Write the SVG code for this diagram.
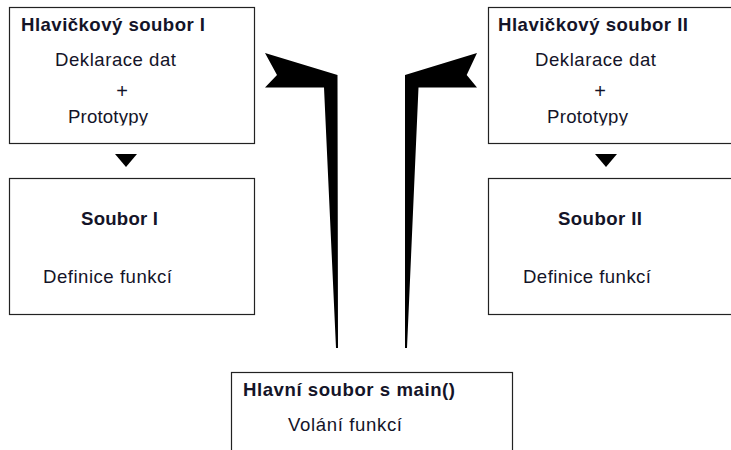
<svg xmlns="http://www.w3.org/2000/svg" width="731" height="450" viewBox="0 0 731 450">
<defs>
<style>
.box{fill:#fff;stroke:#222;stroke-width:1.2}
.t{font-family:"Liberation Sans",Arial,sans-serif;font-size:18.6px;fill:#141428}
.b{font-weight:bold}
.p{font-size:20px}
.arrow{fill:#000}
</style>
<clipPath id="clipL"><rect x="0" y="0" width="260" height="125.5"/></clipPath>
<clipPath id="clipR"><rect x="480" y="0" width="251" height="125.5"/></clipPath>
</defs>
<rect width="731" height="450" fill="#fff"/>
<g id="connectors">
<polygon class="arrow" points="126,167 115,154 137,154"/>
<polygon class="arrow" points="606,167 595,154 617,154"/>
<polygon class="arrow" points="265,53 337.5,75 338,348 336,348 324,87.5 265,87.5 277,75"/>
<polygon class="arrow" points="477,53 405,75 405,348 407,348 418.5,87.5 477,87.5 466.7,75"/>
</g>
<g id="header1">
<rect class="box" x="9.5" y="7.5" width="245" height="136"/>
<text class="t b" x="21" y="31" textLength="184" lengthAdjust="spacing">Hlavičkový soubor I</text>
<text class="t" x="55" y="66" textLength="121" lengthAdjust="spacing">Deklarace dat</text>
<text class="t p" x="122" y="98" text-anchor="middle">+</text>
<text class="t" x="68" y="123" textLength="80" lengthAdjust="spacing" clip-path="url(#clipL)">Prototypy</text>
</g>
<g id="header2">
<rect class="box" x="488.5" y="7.5" width="250" height="136"/>
<text class="t b" x="498" y="31" textLength="190" lengthAdjust="spacing">Hlavičkový soubor II</text>
<text class="t" x="535" y="66" textLength="121" lengthAdjust="spacing">Deklarace dat</text>
<text class="t p" x="600" y="98" text-anchor="middle">+</text>
<text class="t" x="547" y="123" textLength="81" lengthAdjust="spacing" clip-path="url(#clipR)">Prototypy</text>
</g>
<g id="soubor1">
<rect class="box" x="9.5" y="178.5" width="245" height="136"/>
<text class="t b" x="81" y="225" textLength="77" lengthAdjust="spacing">Soubor I</text>
<text class="t" x="43" y="283" textLength="129" lengthAdjust="spacing">Definice funkcí</text>
</g>
<g id="soubor2">
<rect class="box" x="488.5" y="178.5" width="250" height="136"/>
<text class="t b" x="558" y="225" textLength="84" lengthAdjust="spacing">Soubor II</text>
<text class="t" x="523" y="283" textLength="128" lengthAdjust="spacing">Definice funkcí</text>
</g>
<g id="main">
<rect class="box" x="231.5" y="372.5" width="281" height="100"/>
<text class="t b" x="243" y="396" textLength="212" lengthAdjust="spacing">Hlavní soubor s main()</text>
<text class="t" x="288" y="431" textLength="114" lengthAdjust="spacing">Volání funkcí</text>
</g>
</svg>
